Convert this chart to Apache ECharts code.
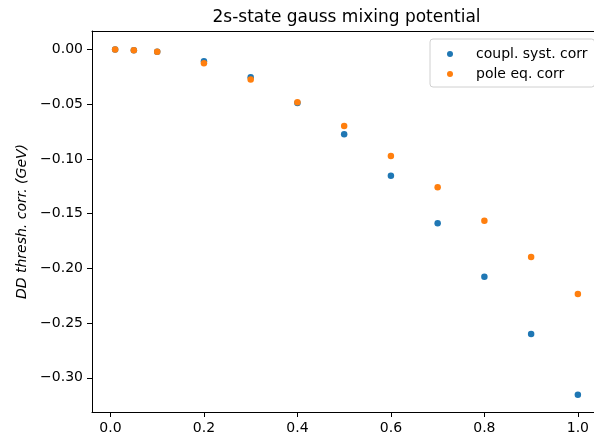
<!DOCTYPE html>
<html>
<head>
<meta charset="utf-8">
<script src="https://cdn.jsdelivr.net/npm/echarts@6/dist/echarts.min.js"></script>
<style>
  html, body { margin: 0; padding: 0; overflow: hidden; background: #fff; }
  #chart { width: 620px; height: 437px; }
</style>
</head>
<body>
<div id="chart"></div>
<script>
// Mixing parameter values and the two threshold corrections (GeV)
const xValues = [0.01, 0.05, 0.1, 0.2, 0.3, 0.4, 0.5, 0.6, 0.7, 0.8, 0.9, 1.0];
const couplSystCorr = [0.0, -0.0006, -0.0021, -0.0107, -0.0253, -0.0488, -0.0775, -0.1154, -0.1588, -0.2076, -0.2601, -0.3156];
const poleEqCorr = [0.0, -0.0006, -0.0021, -0.0125, -0.0275, -0.0483, -0.0699, -0.0974, -0.1258, -0.1566, -0.1896, -0.2234];

const xTicks = [0, 0.2, 0.4, 0.6, 0.8, 1.0];
const yTicks = [0, -0.05, -0.10, -0.15, -0.20, -0.25, -0.30];

const seriesNames = ['coupl. syst. corr', 'pole eq. corr'];
const seriesColors = ['#1f77b4', '#ff7f0e'];

const FONT = 'DejaVu Sans';
const fmtNum = (v, d) => v.toFixed(d).replace('-', '\u2212');
const X_RANGE = [-0.0395, 1.0495];

// the canvas is a little wider than the page so the frame's right side falls outside it
const chart = echarts.init(document.getElementById('chart'), null, { renderer: 'canvas' });

const pairs = ys => xValues.map((x, i) => [x, ys[i]]);

chart.setOption({
  animation: false,
  backgroundColor: '#fff',
  textStyle: { fontFamily: FONT },
  graphic: [{
    type: 'text',
    x: 346.5,
    y: 18,
    style: {
      text: '2s-state gauss mixing potential',
      fontFamily: FONT,
      fontSize: 17,
      fill: '#000',
      align: 'center',
      verticalAlign: 'middle'
    }
  }],
  grid: { left: 92, right: 19, top: 31, bottom: 25 },
  legend: {
    left: 430, top: 39,
    orient: 'vertical',
    padding: [8, 7, 6, 17],
    itemGap: 6,
    itemWidth: 6, itemHeight: 6,
    borderColor: '#d0d0d0', borderWidth: 1, borderRadius: 3,
    backgroundColor: 'rgba(255,255,255,0.8)',
    textStyle: { fontFamily: FONT, fontSize: 14, color: '#000', padding: [0, 0, 0, 18] },
    data: seriesNames.map(n => ({ name: n, icon: 'circle' }))
  },
  xAxis: [
    {
      type: 'value',
      min: X_RANGE[0], max: X_RANGE[1],
      axisLine: { show: true, onZero: false, lineStyle: { color: '#000', width: 1 } },
      axisTick: { show: true, customValues: xTicks, length: 5, lineStyle: { color: '#000' } },
      axisLabel: { customValues: xTicks, margin: 9, fontSize: 14, color: '#000', fontFamily: FONT,
        formatter: v => fmtNum(v, 1) },
      splitLine: { show: false }
    },
    {
      // top frame line
      type: 'value', position: 'top',
      min: X_RANGE[0], max: X_RANGE[1],
      axisLine: { show: true, onZero: false, lineStyle: { color: '#000', width: 1 } },
      axisTick: { show: false }, axisLabel: { show: false }, splitLine: { show: false }
    }
  ],
  yAxis: {
    type: 'value',
    min: -0.3313, max: 0.0169,
    name: 'DD thresh. corr. (GeV)',
    nameLocation: 'middle',
    nameGap: 60,
    nameTextStyle: { fontFamily: FONT, fontSize: 14, fontStyle: 'italic', color: '#000' },
    axisLine: { show: true, onZero: false, lineStyle: { color: '#000', width: 1 } },
    axisTick: { show: true, customValues: yTicks, length: 5, lineStyle: { color: '#000' } },
    axisLabel: { customValues: yTicks, margin: 9, fontSize: 14, color: '#000', fontFamily: FONT,
      formatter: v => fmtNum(v, 2) },
    splitLine: { show: false }
  },
  series: [
    {
      name: seriesNames[0], type: 'scatter', symbol: 'circle', symbolSize: 6.5,
      itemStyle: { color: seriesColors[0], opacity: 1 },
      data: pairs(couplSystCorr)
    },
    {
      name: seriesNames[1], type: 'scatter', symbol: 'circle', symbolSize: 6.5,
      itemStyle: { color: seriesColors[1], opacity: 1 },
      data: pairs(poleEqCorr)
    }
  ]
});
</script>
</body>
</html>
